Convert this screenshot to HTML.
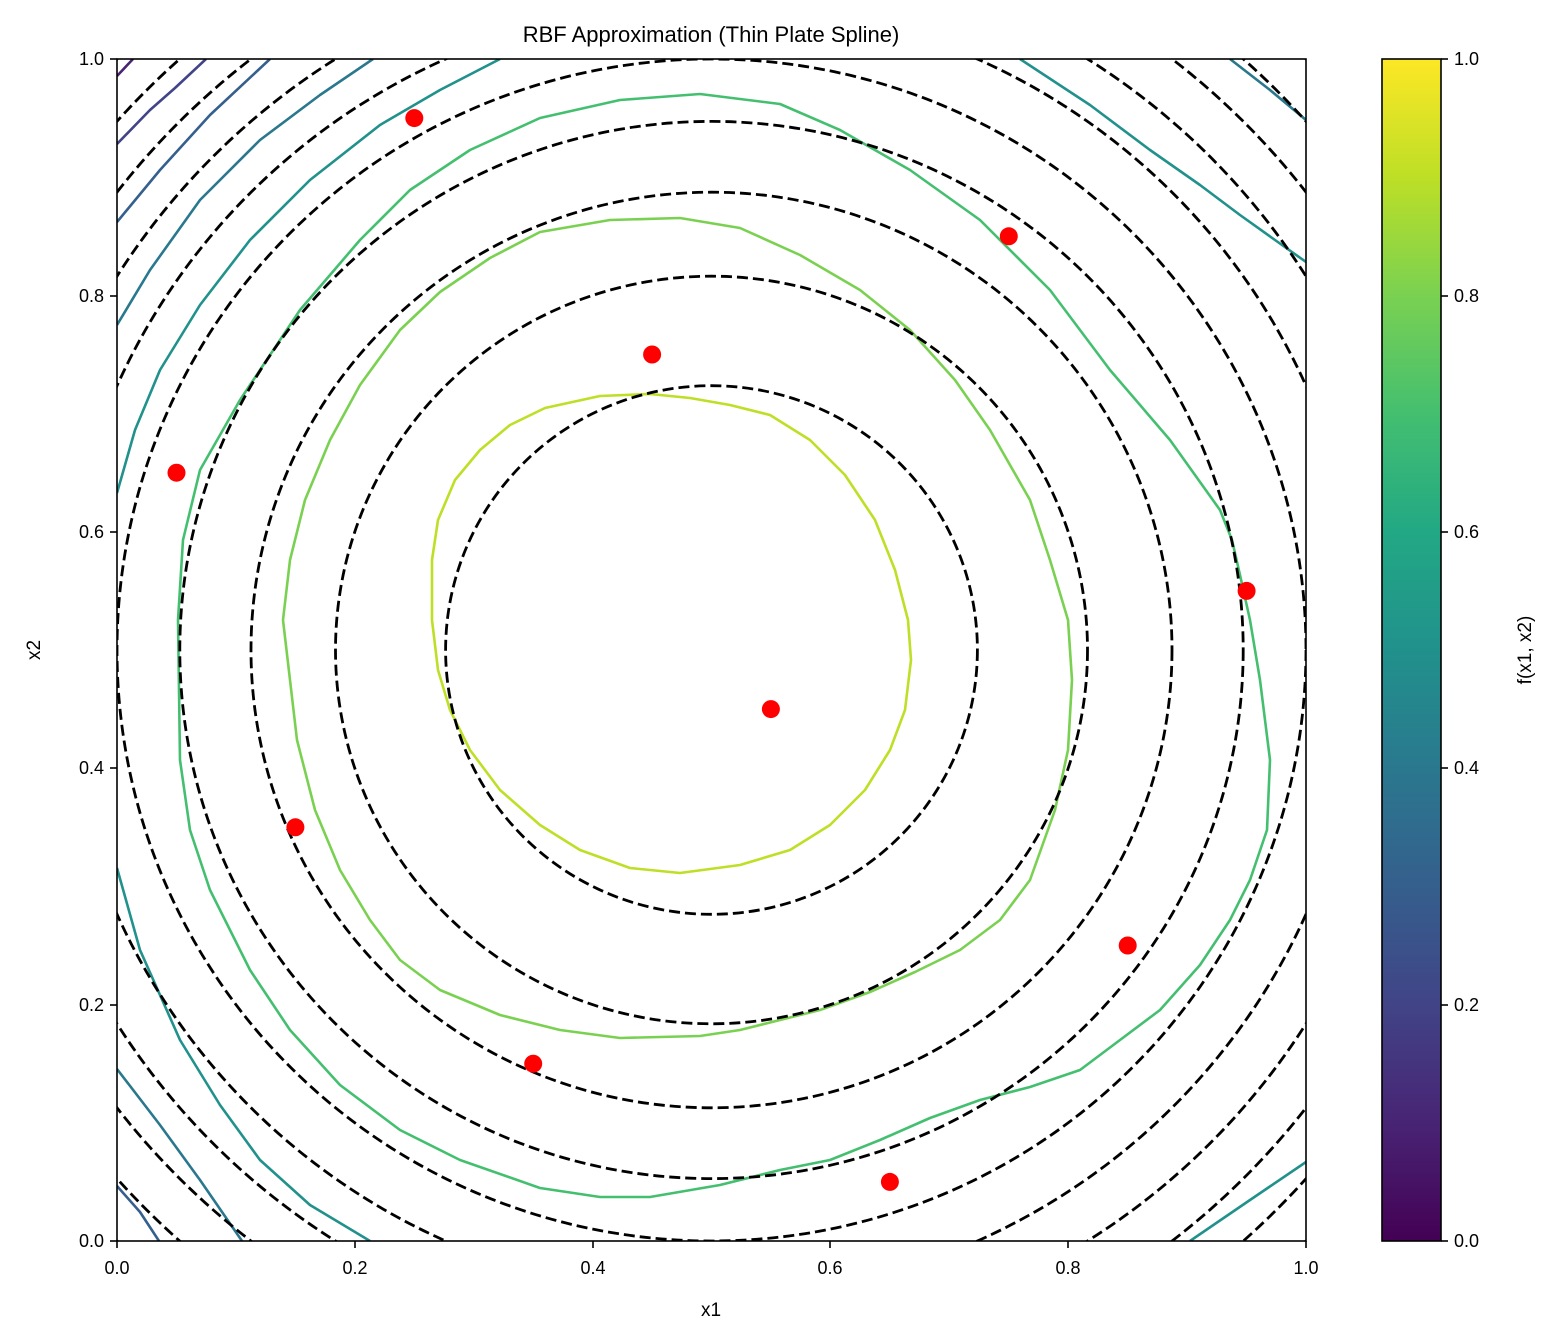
<!DOCTYPE html>
<html><head><meta charset="utf-8"><style>
html,body{margin:0;padding:0;background:#fff;overflow:hidden;width:1557px;height:1342px;}
svg{display:block;overflow:hidden;}
svg text{font-family:"Liberation Sans","DejaVu Sans",sans-serif;fill:#000;}
</style></head><body>
<svg width="1557" height="1342" viewBox="0 0 1557 1342" xmlns="http://www.w3.org/2000/svg" overflow="hidden">
<defs>
<clipPath id="pc"><rect x="117" y="59" width="1189" height="1182"/></clipPath>
<linearGradient id="vir" x1="0" y1="1" x2="0" y2="0">
<stop offset="0" stop-color="#440154"/><stop offset="0.1" stop-color="#482475"/><stop offset="0.2" stop-color="#414487"/><stop offset="0.3" stop-color="#355f8d"/><stop offset="0.4" stop-color="#2a788e"/><stop offset="0.5" stop-color="#21918c"/><stop offset="0.6" stop-color="#22a884"/><stop offset="0.7" stop-color="#44bf70"/><stop offset="0.8" stop-color="#7ad151"/><stop offset="0.9" stop-color="#bddf26"/><stop offset="1" stop-color="#fde725"/>
</linearGradient>
</defs>
<text x="711" y="42" font-size="22" text-anchor="middle">RBF Approximation (Thin Plate Spline)</text>
<g clip-path="url(#pc)" fill="none" stroke-width="2.6" stroke-linejoin="round">
<polyline stroke="#482475" points="117,76 133,59"/>
<polyline stroke="#414487" points="117,144 150,110 175,88 206,59"/>
<polyline stroke="#355f8d" points="117,222 160,170 210,115 270,59"/>
<polyline stroke="#355f8d" points="117,1186 140,1212 159,1241"/>
<polyline stroke="#2a788e" points="117,325 150,270 200,200 260,140 320,95 373,59"/>
<polyline stroke="#2a788e" points="117,1069 160,1125 200,1180 242,1241"/>
<polyline stroke="#2a788e" points="1230,59 1270,90 1306,120"/>
<polyline stroke="#21918c" points="117,493 135,430 160,370 200,305 250,240 310,180 380,125 440,90 500,59"/>
<polyline stroke="#21918c" points="117,868 140,950 180,1040 220,1105 260,1160 310,1205 370,1241"/>
<polyline stroke="#21918c" points="1020,59 1090,105 1150,150 1200,185 1240,215 1275,240 1306,262"/>
<polyline stroke="#21918c" points="1190,1241 1250,1200 1306,1162"/>
<polygon stroke="#44bf70" points="178,620 183,540 200,470 240,400 300,310 360,240 410,190 470,150 540,118 620,100 700,94 780,104 840,130 910,170 980,220 1050,290 1110,370 1170,440 1220,510 1232,540 1240,575 1250,620 1260,680 1270,760 1267,830 1250,880 1230,920 1200,965 1160,1010 1120,1040 1080,1070 1030,1087 980,1100 930,1118 880,1140 830,1160 780,1170 720,1185 650,1197 600,1197 540,1188 460,1160 400,1130 340,1085 290,1030 250,970 210,890 190,830 180,760"/>
<polygon stroke="#7ad151" points="283,620 290,560 305,500 330,440 360,385 400,330 440,292 490,258 540,232 610,220 680,218 740,228 800,255 860,290 910,330 955,380 990,430 1030,500 1050,560 1068,620 1072,680 1068,750 1055,810 1030,880 1000,920 960,950 915,972 870,992 820,1010 780,1020 740,1030 700,1036 620,1038 560,1030 500,1015 440,990 400,960 370,920 340,870 315,810 297,740"/>
<polygon stroke="#bddf26" points="432,560 438,520 455,480 480,450 510,425 545,408 600,396 650,394 690,398 730,405 770,415 810,440 845,475 875,520 895,570 908,620 911,660 905,710 890,750 865,790 830,825 790,850 740,865 680,873 630,868 580,850 540,825 500,790 470,750 450,710 438,670 432,620"/>
<g stroke="#000" stroke-dasharray="11 5" stroke-width="2.8">
<ellipse cx="711.5" cy="650" rx="265.9" ry="264.3"/>
<ellipse cx="711.5" cy="650" rx="376.0" ry="373.8"/>
<ellipse cx="711.5" cy="650" rx="460.5" ry="457.8"/>
<ellipse cx="711.5" cy="650" rx="531.7" ry="528.6"/>
<ellipse cx="711.5" cy="650" rx="594.5" ry="591.0"/>
<ellipse cx="711.5" cy="650" rx="651.2" ry="647.4"/>
<ellipse cx="711.5" cy="650" rx="703.4" ry="699.3"/>
<ellipse cx="711.5" cy="650" rx="752.0" ry="747.6"/>
<ellipse cx="711.5" cy="650" rx="797.6" ry="793.0"/>
<ellipse cx="711.5" cy="650" rx="840.7" ry="835.8"/>
</g>
</g>
<g fill="#ff0000">
<circle cx="176.5" cy="472.7" r="9"/><circle cx="295.4" cy="827.3" r="9"/><circle cx="414.3" cy="118.1" r="9"/><circle cx="533.2" cy="1063.7" r="9"/><circle cx="652.1" cy="354.5" r="9"/><circle cx="770.9" cy="709.1" r="9"/><circle cx="889.9" cy="1181.9" r="9"/><circle cx="1008.8" cy="236.3" r="9"/><circle cx="1127.7" cy="945.5" r="9"/><circle cx="1246.6" cy="590.9" r="9"/>
</g>
<rect x="117" y="59" width="1189" height="1182" fill="none" stroke="#000" stroke-width="1.6"/>
<g stroke="#000" stroke-width="1.6">
<line x1="117" y1="1241" x2="117" y2="1248"/><line x1="355" y1="1241" x2="355" y2="1248"/><line x1="593" y1="1241" x2="593" y2="1248"/><line x1="830" y1="1241" x2="830" y2="1248"/><line x1="1068" y1="1241" x2="1068" y2="1248"/><line x1="1306" y1="1241" x2="1306" y2="1248"/>
<line x1="110" y1="1241" x2="117" y2="1241"/><line x1="110" y1="1005" x2="117" y2="1005"/><line x1="110" y1="768" x2="117" y2="768"/><line x1="110" y1="532" x2="117" y2="532"/><line x1="110" y1="296" x2="117" y2="296"/><line x1="110" y1="59" x2="117" y2="59"/>
<line x1="1441" y1="1241" x2="1448" y2="1241"/><line x1="1441" y1="1005" x2="1448" y2="1005"/><line x1="1441" y1="768" x2="1448" y2="768"/><line x1="1441" y1="532" x2="1448" y2="532"/><line x1="1441" y1="296" x2="1448" y2="296"/><line x1="1441" y1="59" x2="1448" y2="59"/>
</g>
<g font-size="18" text-anchor="middle">
<text x="117" y="1274">0.0</text><text x="355" y="1274">0.2</text><text x="593" y="1274">0.4</text><text x="830" y="1274">0.6</text><text x="1068" y="1274">0.8</text><text x="1306" y="1274">1.0</text>
<text x="711" y="1316" font-size="19">x1</text>
</g>
<g font-size="18" text-anchor="end">
<text x="104" y="1247">0.0</text><text x="104" y="1011">0.2</text><text x="104" y="774">0.4</text><text x="104" y="538">0.6</text><text x="104" y="302">0.8</text><text x="104" y="65">1.0</text>
</g>
<text transform="translate(40,650) rotate(-90)" font-size="19" text-anchor="middle">x2</text>
<rect x="1382" y="59" width="59" height="1182" fill="url(#vir)" stroke="#000" stroke-width="1.6"/>
<g font-size="18">
<text x="1454" y="1247">0.0</text><text x="1454" y="1011">0.2</text><text x="1454" y="774">0.4</text><text x="1454" y="538">0.6</text><text x="1454" y="302">0.8</text><text x="1454" y="65">1.0</text>
</g>
<text transform="translate(1531,650) rotate(-90)" font-size="19" text-anchor="middle">f(x1, x2)</text>
</svg>
</body></html>
